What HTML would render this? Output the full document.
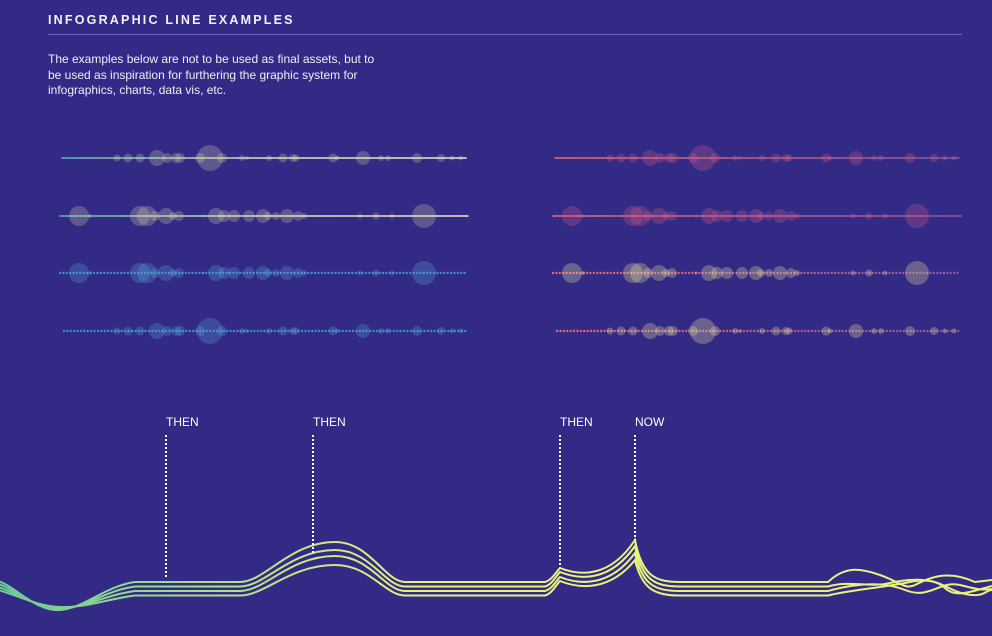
<!DOCTYPE html>
<html><head><meta charset="utf-8">
<style>
html,body{margin:0;padding:0;background:#332a85;}
body{width:992px;height:636px;overflow:hidden;position:relative;font-family:"Liberation Sans",sans-serif;color:#fff;}
#title{position:absolute;left:48px;top:13px;font-size:12.5px;letter-spacing:2.2px;font-weight:bold;color:#f4f2ff;}
#rule{position:absolute;left:48px;top:34px;width:914px;height:1px;background:#6a62b5;}
#intro{position:absolute;left:48px;top:52px;font-size:12px;line-height:15.5px;color:#f0eefa;width:336px;}
svg{position:absolute;left:0;top:0;}
</style></head>
<body>
<div id="title">INFOGRAPHIC LINE EXAMPLES</div>
<div id="rule"></div>
<div id="intro">The examples below are not to be used as final assets, but to be used as inspiration for furthering the graphic system for infographics, charts, data vis, etc.</div>
<svg id="chart" width="992" height="636">
<defs>
<linearGradient id="gTeal" x1="0" x2="1"><stop offset="0" stop-color="#5fb8b0"/><stop offset="0.5" stop-color="#d8e6b0"/><stop offset="1" stop-color="#f0ecc0"/></linearGradient>
<linearGradient id="gPink" x1="0" x2="1"><stop offset="0" stop-color="#ee6670"/><stop offset="0.6" stop-color="#b0608a"/><stop offset="1" stop-color="#8a5aa0"/></linearGradient>
<linearGradient id="gWave" gradientUnits="userSpaceOnUse" x1="0" x2="420" y1="0" y2="0"><stop offset="0" stop-color="#6ccc98"/><stop offset="1" stop-color="#e8f27c"/></linearGradient>
</defs>
<g id="bubbles"></g>
<g id="waves"></g>
<g id="markers"></g>
</svg>
<script>
// Bubble data (x position in px along left panel, radius)
const rowAx = [117,128,140,157,167,176,180,200,210,222,242,247,269,283,293,296,333,337,363,381,388,417,441,452,461];
const rowAr = [3.5,4.5,4.5,8,5,5,5,5,13,5,3,2,3,4.5,4,3.5,4.5,2.5,7,3,3,5,4,2.5,2.5];
const rowBx = [79,90,140,147,155,166,173,179,203,216,224,234,249,263,268,276,287,298,304,360,376,392,424];
const rowBr = [10,2,10,10,5,8,4,5,1.5,8,6,6,6,7,4,4,7,5,3,2.5,3.5,2.5,12];
const rowYs = [158,216,273,331];
const markerX = [166,313,560,635];
const markerTop = [578,553,566,540];
const markerLabels = ["THEN","THEN","THEN","NOW"];

const NS="http://www.w3.org/2000/svg";
function mk(tag,attrs,parent){const e=document.createElementNS(NS,tag);for(const k in attrs)e.setAttribute(k,attrs[k]);parent.appendChild(e);return e;}
const bg=document.getElementById('bubbles');
const rows=[
 {y:rowYs[0],xs:rowAx,rs:rowAr,x1:62,x2:466,style:'solid'},
 {y:rowYs[1],xs:rowBx,rs:rowBr,x1:60,x2:468,style:'solid'},
 {y:rowYs[2],xs:rowBx,rs:rowBr,x1:60,x2:466,style:'dot'},
 {y:rowYs[3],xs:rowAx,rs:rowAr,x1:64,x2:466,style:'dot'}
];
const panels=[
 {off:0,solidStroke:'url(#gTeal)',solidFill:'rgba(225,215,170,0.26)',dotStroke:'#3d8fc4',dotFill:'rgba(90,160,210,0.30)'},
 {off:493,solidStroke:'url(#gPink)',solidFill:'rgba(215,95,135,0.28)',dotStroke:'url(#gPink)',dotFill:'rgba(225,215,160,0.32)'}
];
panels.forEach((p,pi)=>{
 rows.forEach((r,ri)=>{
  const dot=r.style==='dot';
  const g=mk('g',{},bg);
  
  
  const ln=mk('line',{x1:r.x1+p.off,x2:r.x2+p.off,y1:r.y,y2:r.y+0.01,stroke:dot?p.dotStroke:p.solidStroke,'stroke-width':dot?2.4:1.6,'stroke-dasharray':dot?'0 3.4':'none','stroke-linecap':'round'},g);
  
  
  r.xs.forEach((x,i)=>{
   const c=mk('circle',{cx:x+p.off,cy:r.y,r:r.rs[i],fill:dot?p.dotFill:p.solidFill},g);
   
   
  });
 });
});
// waves
const wg=document.getElementById('waves');
const peaks1=[542,550,556,565];
const spikes=[540,546,553,560];
const small=[568,572,577,581];
const tails=[
 'C 845 566, 860 568, 880 575 S 905 590, 915 585 S 945 568, 975 582 L 992 580',
 'C 850 580, 870 588, 890 583 S 935 578, 945 588 S 970 592, 992 586',
 'C 850 585, 880 580, 905 590 S 940 580, 960 585 S 980 590, 992 589',
 'C 850 590, 880 588, 910 582 S 945 590, 965 594 S 985 590, 992 590'
];
for(let i=0;i<4;i++){
 const F=582+4.5*i;
 const d=`M -5 ${580+3*i} C 15 ${585+3*i}, 35 ${612-2*i}, 60 ${610-i} S 105 ${F+4}, 135 ${F} L 240 ${F} C 265 ${F}, 290 ${peaks1[i]}, 335 ${peaks1[i]} C 370 ${peaks1[i]}, 385 ${F}, 405 ${F} L 545 ${F} C 552 ${F-2}, 556 ${small[i]+4}, 560 ${small[i]} C 580 ${small[i]+8}, 610 ${small[i]+10}, 635 ${spikes[i]} C 642 ${F-6}, 655 ${F}, 680 ${F} L 828 ${F} ${tails[i]}`;
 const p=mk('path',{d:d,fill:'none',stroke:'url(#gWave)','stroke-width':2},wg);
 
 
}
const mg=document.getElementById('markers');
markerX.forEach((x,i)=>{
 const l=mk('line',{x1:x,x2:x,y1:435,y2:markerTop[i],stroke:'#fff','stroke-width':2,'stroke-dasharray':'2 2'},mg);
 
 
 const t=mk('text',{x:x,y:426,fill:'#fff','font-size':12,'font-family':'Liberation Sans, sans-serif'},mg);
 t.textContent=markerLabels[i];
 
 
});
</script>
</body></html>
